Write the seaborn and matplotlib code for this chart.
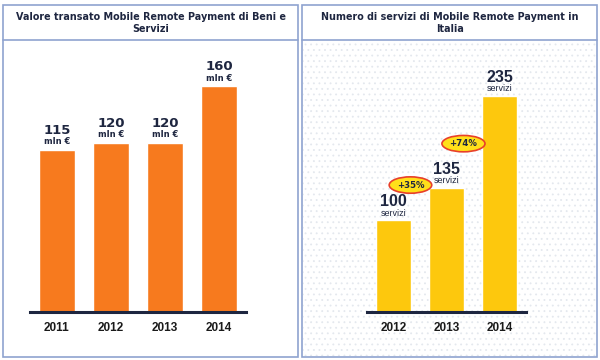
import numpy as np
import pandas as pd
import matplotlib
matplotlib.use("Agg")
import matplotlib.pyplot as plt
from matplotlib.patches import Rectangle
import seaborn as sns

# data
years_value = ["2011", "2012", "2013", "2014"]
value_mln = [115, 120, 120, 160]
value_unit = "mln €"

years_services = ["2012", "2013", "2014"]
services = [100, 135, 235]
services_unit = "servizi"
growth_labels = ["+35%", "+74%"]
growth_y = [138, 183]  # where the badges sit, in services units

title_left = "Valore transato Mobile Remote Payment di Beni e\nServizi"
title_right = "Numero di servizi di Mobile Remote Payment in\nItalia"

navy = "#1E2640"
frame = "#8FA3CF"

sns.set_style("white")
plt.rcParams['font.family'] = ['DejaVu Sans']
plt.rcParams['hatch.linewidth'] = 0.6

fig = plt.figure(figsize=(6, 3.6), dpi=100)

def px(x0, y0, w, h):
    # pixel box (top-left origin) -> figure fraction
    return [x0 / 600, 1 - (y0 + h) / 360, w / 600, h / 360]

# panel frames
for x0 in (3, 302):
    fig.add_artist(Rectangle((x0 / 600, 3 / 360), 295 / 600, 352 / 360,
                             transform=fig.transFigure, fc="white",
                             ec=frame, lw=1.2, zorder=0))
# dotted background on the right panel
fig.add_artist(Rectangle((303 / 600, 4 / 360), 293 / 600, 314 / 360,
                         transform=fig.transFigure, fc="white",
                         ec="#E4E8EE", lw=0, hatch="...", zorder=0.5))
# header separators
for x0 in (3, 302):
    fig.add_artist(plt.Line2D([x0 / 600, (x0 + 295) / 600], [1 - 40 / 360] * 2,
                              transform=fig.transFigure, color=frame, lw=1.2,
                              zorder=1))

fig.text(151 / 600, 1 - 23 / 360, title_left, ha="center", va="center",
         fontsize=6.9, fontweight="bold", color=navy, linespacing=1.3)
fig.text(450 / 600, 1 - 23 / 360, title_right, ha="center", va="center",
         fontsize=6.9, fontweight="bold", color=navy, linespacing=1.3)

# left chart
scale_l = 1.41  # px per mln
axl = fig.add_axes(px(30, 62, 216, 250))
df_l = pd.DataFrame({"anno": years_value, "valore": value_mln})
sns.barplot(data=df_l, x="anno", y="valore", color="#F77A1E", saturation=1,
            width=0.67, ax=axl)
axl.set_ylim(0, 250 / scale_l)
axl.set_xlim(-0.5, 3.5)
for i, v in enumerate(value_mln):
    axl.annotate(str(v), (i, v), xytext=(0, 14), textcoords="offset points",
                 ha="center", va="center", fontsize=9.5, fontweight="bold",
                 color=navy)
    axl.annotate(value_unit, (i, v), xytext=(0, 6), textcoords="offset points",
                 ha="center", va="center", fontsize=6, fontweight="bold",
                 color=navy)

# right chart
scale_r = 0.92  # px per service
axr = fig.add_axes(px(367, 62, 159, 250))
df_r = pd.DataFrame({"anno": years_services, "servizi": services})
sns.barplot(data=df_r, x="anno", y="servizi", color="#FDC80D", saturation=1,
            width=0.66, ax=axr)
axr.set_ylim(0, 250 / scale_r)
axr.set_xlim(-0.5, 2.5)
for i, v in enumerate(services):
    axr.annotate(str(v), (i, v), xytext=(0, 13.5), textcoords="offset points",
                 ha="center", va="center", fontsize=11.5, fontweight="bold",
                 color=navy, family="Liberation Sans")
    axr.annotate(services_unit, (i, v), xytext=(0, 5), textcoords="offset points",
                 ha="center", va="center", fontsize=6.5, color=navy,
                 family="Liberation Sans")
for i, g in enumerate(growth_labels):
    axr.text(i + 0.32, growth_y[i], g, ha="center", va="center",
             fontsize=6.2, fontweight="bold", color=navy,
             bbox=dict(boxstyle="ellipse,pad=0.15", fc="#FFE01A",
                       ec="#E8402A", lw=1.2))

for ax in (axl, axr):
    ax.set_zorder(3)
    ax.set_facecolor("none")
    ax.set_xlabel("")
    ax.set_ylabel("")
    ax.set_yticks([])
    for s in ("left", "right", "top"):
        ax.spines[s].set_visible(False)
    ax.spines["bottom"].set_color(navy)
    ax.spines["bottom"].set_linewidth(2.2)
    ax.tick_params(axis="x", length=0, pad=7)
    for lab in ax.get_xticklabels():
        lab.set_fontweight("bold")
        lab.set_fontsize(8.5)
        lab.set_color("#1A1A1A")
        lab.set_family("Liberation Sans")

fig.savefig("out.png", dpi=100)
